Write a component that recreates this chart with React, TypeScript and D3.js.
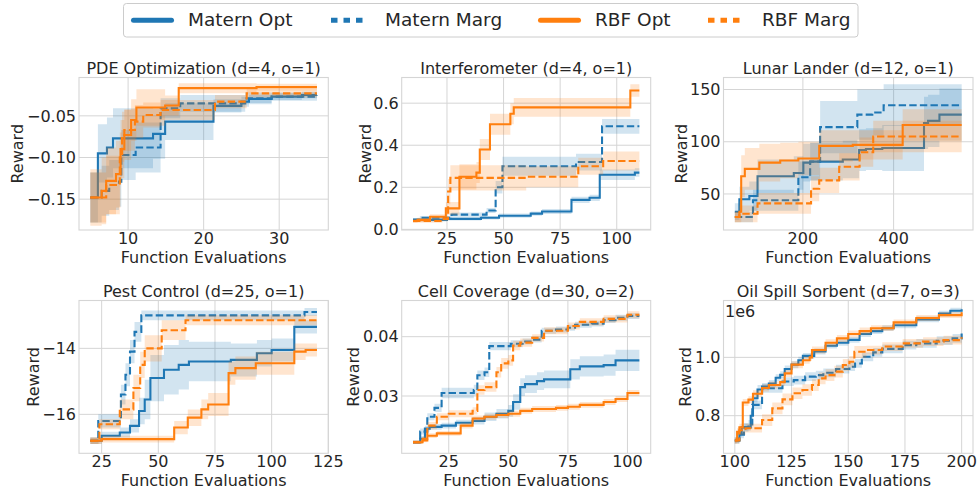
import React from "react";
import * as d3 from "d3";

type P = [number, number, number]; // [evaluations, mean reward, half-width of band]

// ---------- PDE Optimization ----------
const pdeMaternOpt: P[] = [[5,-0.148,0.03],[6,-0.095,0.035],[7.2,-0.088,0.036],[8,-0.077,0.036],[13.3,-0.0716,0.03],[14.9,-0.057,0.022],[21.3,-0.038,0.008],[25,-0.033,0.006],[26,-0.0296,0.005],[29,-0.027,0.004],[33,-0.025,0.004],[35,-0.025,0.004]];
const pdeMaternMarg: P[] = [[5,-0.148,0.03],[6.5,-0.14,0.03],[7.5,-0.133,0.03],[8.8,-0.129,0.03],[9.1,-0.097,0.03],[11,-0.088,0.03],[14.3,-0.041,0.012],[16.9,-0.035,0.01],[25.5,-0.029,0.007],[29,-0.027,0.005],[35,-0.025,0.005]];
const pdeRbfOpt: P[] = [[5,-0.148,0.034],[6.5,-0.14,0.04],[7.1,-0.128,0.04],[8.4,-0.12,0.04],[9,-0.09,0.035],[9.5,-0.073,0.03],[10.4,-0.055,0.025],[11.1,-0.04,0.022],[14.9,-0.0376,0.012],[16.7,-0.0168,0.006],[27,-0.0156,0.004],[35,-0.0156,0.004]];
const pdeRbfMarg: P[] = [[5,-0.148,0.03],[7.1,-0.133,0.035],[8.9,-0.1,0.03],[9.2,-0.075,0.03],[9.5,-0.067,0.025],[10.9,-0.057,0.02],[12,-0.049,0.015],[14.3,-0.043,0.012],[21.5,-0.033,0.008],[25.7,-0.023,0.005],[35,-0.023,0.005]];

// ---------- Interferometer ----------
const ifoMaternOpt: P[] = [[10,0.045,0.008],[25,0.05,0.008],[40,0.055,0.008],[48,0.065,0.01],[62,0.075,0.01],[67,0.085,0.012],[80,0.14,0.015],[88,0.15,0.015],[92.5,0.26,0.025],[108,0.27,0.02],[110,0.27,0.02]];
const ifoMaternMarg: P[] = [[10,0.045,0.008],[13,0.055,0.008],[27,0.07,0.01],[42.5,0.09,0.012],[46.5,0.2,0.03],[49.5,0.3,0.045],[82,0.32,0.04],[93.5,0.49,0.035],[110,0.49,0.035]];
const ifoRbfOpt: P[] = [[10,0.04,0.008],[12,0.045,0.01],[17.5,0.06,0.012],[24.5,0.1,0.03],[30.5,0.25,0.06],[38,0.27,0.05],[39.5,0.38,0.05],[44,0.5,0.05],[53,0.55,0.05],[54.5,0.58,0.045],[106,0.66,0.03],[110,0.66,0.03]];
const ifoRbfMarg: P[] = [[10,0.04,0.008],[23,0.05,0.01],[25.5,0.18,0.06],[26.5,0.245,0.06],[60,0.25,0.05],[83,0.3,0.04],[94,0.325,0.045],[110,0.325,0.045]];

// ---------- Lunar Lander ----------
const llMaternOpt: P[] = [[50,33,8],[60,45,12],[82,48,14],[100,67,16],[180,70,16],[201,80,18],[216,81,18],[288,83,18],[324,92,20],[339,93,20],[375,94,22],[467,118,25],[476,120,25],[501,126,25],[550,126,25]];
const llMaternMarg: P[] = [[50,28,5],[90,44,10],[190,66,15],[216,81,18],[238,114,25],[320,126,24],[353,128,22],[378,135,20],[550,135,20]];
const llRbfOpt: P[] = [[50,28,5],[60,33,10],[64,67,20],[72,74,20],[104,80,18],[150,82,17],[190,84,16],[236,96,15],[310,97,14],[420,116,15],[550,116,15]];
const llRbfMarg: P[] = [[50,28,5],[60,31,8],[100,41,10],[218,55,12],[236,63,12],[280,76,13],[325,90,14],[355,105,15],[550,105,15]];

// ---------- Pest Control ----------
const pcMaternOpt: P[] = [[20,-16.8,0.1],[25,-16.65,0.12],[33,-16.55,0.15],[37.5,-16.35,0.2],[41.5,-15.9,0.4],[44,-15.55,0.6],[46.5,-14.9,0.7],[52.5,-14.65,0.75],[59,-14.5,0.75],[63.5,-14.4,0.6],[82,-14.35,0.5],[93.5,-14.15,0.4],[100,-14.05,0.35],[110,-13.35,0.2],[120,-13.35,0.2]];
const pcMaternMarg: P[] = [[20,-16.8,0.1],[23.5,-16.2,0.2],[33.5,-15.4,0.3],[35.5,-14.8,0.35],[37.5,-14.1,0.35],[39.5,-13.5,0.3],[42.5,-13.0,0.15],[114.5,-12.9,0.12],[120,-12.9,0.12]];
const pcRbfOpt: P[] = [[20,-16.8,0.1],[25,-16.75,0.1],[57,-16.4,0.2],[63,-16.1,0.25],[69,-15.85,0.3],[72,-15.7,0.35],[81,-14.75,0.35],[84,-14.6,0.35],[93,-14.45,0.35],[110,-14.1,0.25],[115,-14.05,0.2],[120,-14.05,0.2]];
const pcRbfMarg: P[] = [[20,-16.8,0.1],[24,-16.3,0.15],[33,-15.85,0.3],[39,-15.2,0.4],[42,-14.5,0.4],[44,-14.0,0.4],[51.5,-13.45,0.3],[62,-13.15,0.15],[120,-13.15,0.15]];

// ---------- Cell Coverage ----------
const ccMaternOpt: P[] = [[10,0.0222,0.0003],[13,0.0228,0.0004],[15,0.0245,0.0005],[17,0.0248,0.0005],[22,0.025,0.0005],[28,0.0255,0.0005],[35,0.0258,0.0006],[40,0.0265,0.0007],[45,0.027,0.0008],[50,0.0275,0.001],[52,0.029,0.0013],[55,0.0315,0.0015],[57,0.032,0.0015],[62,0.0325,0.0015],[65,0.0328,0.0015],[76,0.0345,0.0017],[80,0.035,0.0017],[90,0.0352,0.0018],[95,0.036,0.0018],[105,0.036,0.0018]];
const ccMaternMarg: P[] = [[10,0.0222,0.0003],[13,0.024,0.0005],[16,0.0265,0.0006],[19,0.028,0.0007],[22,0.0305,0.0009],[35.5,0.031,0.0009],[37,0.0335,0.0008],[40,0.034,0.0008],[42,0.0384,0.0007],[51,0.0388,0.0006],[56,0.0392,0.0005],[60,0.0395,0.0005],[64,0.041,0.0005],[70,0.0412,0.0005],[75,0.0415,0.0005],[78,0.042,0.0005],[85,0.0422,0.0005],[90,0.0428,0.0005],[95,0.0432,0.0005],[100,0.0435,0.0005],[105,0.0435,0.0005]];
const ccRbfOpt: P[] = [[10,0.0222,0.0003],[14,0.0225,0.0003],[16,0.0233,0.0004],[20,0.0237,0.0004],[30,0.025,0.0005],[35,0.0262,0.0005],[40,0.0265,0.0005],[45,0.0268,0.0005],[50,0.027,0.0005],[55,0.0275,0.0005],[60,0.0278,0.0005],[70,0.028,0.0005],[75,0.0282,0.0005],[80,0.0285,0.0005],[90,0.029,0.0005],[95,0.0295,0.0005],[100,0.0305,0.0005],[105,0.0305,0.0005]];
const ccRbfMarg: P[] = [[10,0.0222,0.0003],[14,0.0228,0.0004],[16,0.025,0.0006],[20,0.0265,0.0006],[25,0.027,0.0006],[35,0.0275,0.0006],[37,0.031,0.0008],[40,0.0315,0.0008],[45,0.034,0.0009],[47,0.0355,0.0009],[50,0.036,0.0009],[52,0.0385,0.0008],[55,0.039,0.0007],[60,0.0398,0.0006],[65,0.041,0.0006],[75,0.0418,0.0006],[80,0.0425,0.0006],[90,0.043,0.0006],[100,0.0437,0.0006],[105,0.0437,0.0006]];

// ---------- Oil Spill Sorbent (x1e6) ----------
const osMaternOpt: P[] = [[100,0.715,0.01],[102,0.74,0.012],[103,0.76,0.012],[107,0.8,0.015],[108,0.86,0.015],[110,0.89,0.015],[112,0.9,0.012],[115,0.91,0.012],[118,0.93,0.012],[120,0.94,0.012],[122,0.96,0.012],[125,0.975,0.012],[128,0.99,0.012],[130,1.005,0.01],[135,1.02,0.01],[140,1.04,0.01],[145,1.05,0.01],[150,1.06,0.01],[155,1.08,0.01],[160,1.09,0.01],[165,1.1,0.01],[170,1.11,0.01],[180,1.13,0.01],[190,1.15,0.01],[195,1.16,0.01],[200,1.165,0.01]];
const osMaternMarg: P[] = [[100,0.715,0.01],[102,0.735,0.012],[104,0.76,0.015],[106,0.77,0.015],[107.7,0.837,0.015],[112,0.894,0.015],[121,0.917,0.015],[126,0.922,0.015],[131,0.934,0.015],[135.7,0.939,0.015],[139,0.947,0.015],[144.6,0.96,0.015],[150.5,0.968,0.015],[153,0.979,0.015],[156,1.002,0.015],[161,1.017,0.015],[165,1.029,0.015],[174,1.042,0.015],[180,1.048,0.015],[189,1.057,0.015],[196,1.065,0.015],[200,1.082,0.015]];
const osRbfOpt: P[] = [[100,0.715,0.01],[101,0.745,0.012],[102,0.76,0.012],[103.5,0.845,0.012],[106,0.855,0.012],[108,0.875,0.012],[112,0.895,0.012],[115,0.905,0.012],[120,0.915,0.012],[122,0.945,0.012],[125,0.975,0.012],[130,0.99,0.012],[133,1.0,0.012],[134,1.025,0.012],[140,1.05,0.012],[145,1.065,0.012],[150,1.08,0.012],[155,1.09,0.012],[160,1.1,0.01],[170,1.12,0.01],[180,1.135,0.01],[190,1.145,0.01],[200,1.155,0.01]];
const osRbfMarg: P[] = [[100,0.715,0.01],[102,0.75,0.015],[104.7,0.757,0.015],[112,0.785,0.02],[116.5,0.825,0.02],[121,0.856,0.02],[125.4,0.877,0.02],[129.8,0.888,0.02],[134,0.905,0.02],[137,0.928,0.02],[140,0.939,0.02],[143.9,0.951,0.02],[147.6,0.974,0.02],[150.5,0.985,0.02],[152.7,1.019,0.02],[158,1.025,0.015],[165,1.037,0.015],[174,1.048,0.015],[183,1.054,0.015],[192,1.059,0.015],[200,1.069,0.015]];

// ---------- Series / panel descriptors ----------
const SERIES_LABELS = ["Matern Opt", "Matern Marg", "RBF Opt", "RBF Marg"];
const PANEL_TITLES = [
  "PDE Optimization (d=4, o=1)",
  "Interferometer (d=4, o=1)",
  "Lunar Lander (d=12, o=1)",
  "Pest Control (d=25, o=1)",
  "Cell Coverage (d=30, o=2)",
  "Oil Spill Sorbent (d=7, o=3)",
];
const PANEL_SERIES: P[][][] = [
  [pdeMaternOpt, pdeMaternMarg, pdeRbfOpt, pdeRbfMarg],
  [ifoMaternOpt, ifoMaternMarg, ifoRbfOpt, ifoRbfMarg],
  [llMaternOpt, llMaternMarg, llRbfOpt, llRbfMarg],
  [pcMaternOpt, pcMaternMarg, pcRbfOpt, pcRbfMarg],
  [ccMaternOpt, ccMaternMarg, ccRbfOpt, ccRbfMarg],
  [osMaternOpt, osMaternMarg, osRbfOpt, osRbfMarg],
];
const X_DOMAINS = [[3.5, 36.5], [5, 115], [25, 575], [15, 125], [5.25, 109.75], [95, 205]];
const Y_DOMAINS = [[-0.187, -0.004], [-0.003, 0.722], [15.5, 161.5], [-17.18, -12.55], [0.02034, 0.0461], [0.671, 1.195]];
const X_TICKS = [[10, 20, 30], [25, 50, 75, 100], [200, 400], [25, 50, 75, 100, 125], [25, 50, 75, 100], [100, 125, 150, 175, 200]];
const Y_TICKS = [[-0.15, -0.1, -0.05], [0, 0.2, 0.4, 0.6], [50, 100, 150], [-16, -14], [0.03, 0.04], [0.8, 1.0]];
const Y_FORMATS = [".2f", ".1f", "d", "d", ".2f", ".1f"];
const Y_OFFSET_TEXT = ["", "", "", "", "", "1e6"];
const X_LABEL = "Function Evaluations";
const Y_LABEL = "Reward";

// ---------- styling / layout ----------
const COLORS = ["#1f77b4", "#1f77b4", "#ff7f0e", "#ff7f0e"];
const DASHED = [false, true, false, true];
const TEXT = "#262626";
const GRID = "#d5d5d5";
const FONT = "'DejaVu Sans', sans-serif";
const LAYOUT = [
  { x0: 79, x1: 328.3, y0: 77.5, y1: 230, ylx: 23 },
  { x0: 401.7, x1: 650.7, y0: 77.5, y1: 230, ylx: 371 },
  { x0: 723.5, x1: 973, y0: 77.5, y1: 230, ylx: 686.5 },
  { x0: 79, x1: 328.3, y0: 300.5, y1: 453.3, ylx: 38.5 },
  { x0: 401.7, x1: 650.7, y0: 300.5, y1: 453.3, ylx: 359 },
  { x0: 723.5, x1: 973, y0: 300.5, y1: 453.3, ylx: 691 },
];
const LEGEND_X = [131, 328, 538, 705];

function Panel({ i }: { i: number }) {
  const L = LAYOUT[i];
  const x = d3.scaleLinear().domain(X_DOMAINS[i]).range([L.x0, L.x1]);
  const y = d3.scaleLinear().domain(Y_DOMAINS[i]).range([L.y1, L.y0]);
  const fmt = d3.format(Y_FORMATS[i]);
  const line = d3.line<P>().x((d) => x(d[0])).y((d) => y(d[1])).curve(d3.curveStepAfter);
  const area = d3
    .area<P>()
    .x((d) => x(d[0]))
    .y0((d) => y(d[1] - d[2]))
    .y1((d) => y(d[1] + d[2]))
    .curve(d3.curveStepAfter);
  const clipId = `clip-${i}`;
  const cx = (L.x0 + L.x1) / 2;
  const cy = (L.y0 + L.y1) / 2;
  return (
    <g>
      <defs>
        <clipPath id={clipId}>
          <rect x={L.x0} y={L.y0} width={L.x1 - L.x0} height={L.y1 - L.y0} />
        </clipPath>
      </defs>
      {X_TICKS[i].map((t) => (
        <line key={"gx" + t} x1={x(t)} x2={x(t)} y1={L.y0} y2={L.y1} stroke={GRID} strokeWidth={1} />
      ))}
      {Y_TICKS[i].map((t) => (
        <line key={"gy" + t} x1={L.x0} x2={L.x1} y1={y(t)} y2={y(t)} stroke={GRID} strokeWidth={1} />
      ))}
      <g clipPath={`url(#${clipId})`}>
        {PANEL_SERIES[i].map((s, k) => (
          <g key={k}>
            <path d={area(s) || ""} fill={COLORS[k]} fillOpacity={0.2} stroke="none" />
            <path
              d={line(s) || ""}
              fill="none"
              stroke={COLORS[k]}
              strokeWidth={2.1}
              strokeDasharray={DASHED[k] ? "7.4 3.2" : undefined}
            />
          </g>
        ))}
      </g>
      <rect x={L.x0} y={L.y0} width={L.x1 - L.x0} height={L.y1 - L.y0} fill="none" stroke={GRID} strokeWidth={1.1} />
      {X_TICKS[i].map((t) => (
        <text key={"tx" + t} x={x(t)} y={L.y1 + 14} textAnchor="middle" fontSize={16} fill={TEXT}>
          {String(t)}
        </text>
      ))}
      {Y_TICKS[i].map((t) => (
        <text key={"ty" + t} x={L.x0 - 3} y={y(t)} dy="0.36em" textAnchor="end" fontSize={16} fill={TEXT}>
          {fmt(t)}
        </text>
      ))}
      {Y_OFFSET_TEXT[i] && (
        <text x={L.x0 + 1.5} y={L.y0 + 16} fontSize={16} fill={TEXT}>
          {Y_OFFSET_TEXT[i]}
        </text>
      )}
      <text x={cx} y={L.y0 - 3.5} textAnchor="middle" fontSize={16} fill={TEXT}>
        {PANEL_TITLES[i]}
      </text>
      <text x={cx} y={L.y1 + 32.5} textAnchor="middle" fontSize={16} fill={TEXT}>
        {X_LABEL}
      </text>
      <text transform={`translate(${L.ylx},${cy}) rotate(-90)`} textAnchor="middle" fontSize={16} fill={TEXT}>
        {Y_LABEL}
      </text>
    </g>
  );
}

function Legend() {
  const left = LEGEND_X[0] - 7.5;
  const right = 858;
  return (
    <g>
      <rect x={left} y={3.5} width={right - left} height={33.5} rx={3} fill="#fff" stroke="#cccccc" strokeWidth={1} />
      {SERIES_LABELS.map((lab, k) => {
        const hx = LEGEND_X[k];
        return (
          <g key={lab}>
            {DASHED[k] ? (
              <line x1={hx + 3} x2={hx + 36} y1={20.2} y2={20.2} stroke={COLORS[k]} strokeWidth={5} strokeDasharray="6.5 6" />
            ) : (
              <line x1={hx + 2.5} x2={hx + 40.5} y1={20.2} y2={20.2} stroke={COLORS[k]} strokeWidth={5} strokeLinecap="round" />
            )}
            <text x={hx + 57} y={26} fontSize={18.5} fill={TEXT}>
              {lab}
            </text>
          </g>
        );
      })}
    </g>
  );
}

export default function App() {
  return (
    <svg
      width={979}
      height={491}
      viewBox="0 0 979 491"
      style={{ position: "absolute", left: 0, top: 0, display: "block", fontFamily: FONT, background: "#fff" }}
    >
      <rect x={0} y={0} width={979} height={491} fill="#fff" />
      <Legend />
      {PANEL_TITLES.map((_, i) => (
        <Panel key={i} i={i} />
      ))}
    </svg>
  );
}
